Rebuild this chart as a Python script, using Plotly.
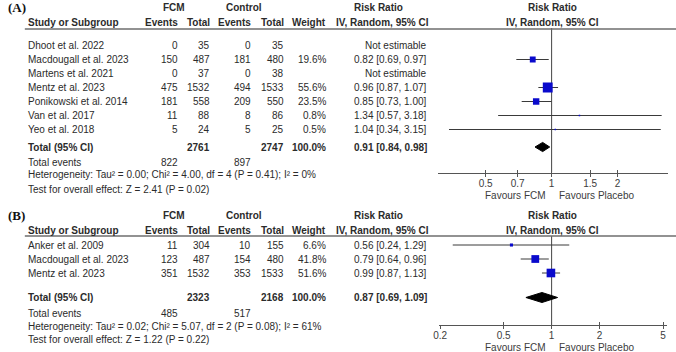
import math
import plotly.graph_objects as go

# ---------------- data: panel A ----------------
studies_a = ["Dhoot et al. 2022", "Macdougall et al. 2023", "Martens et al. 2021",
             "Mentz et al. 2023", "Ponikowski et al. 2014", "Van et al. 2017", "Yeo et al. 2018"]
fcm_events_a = [0, 150, 0, 475, 181, 11, 5]
fcm_total_a = [35, 487, 37, 1532, 558, 88, 24]
ctl_events_a = [0, 181, 0, 494, 209, 8, 5]
ctl_total_a = [35, 480, 38, 1533, 550, 86, 25]
weight_a = [None, 19.6, None, 55.6, 23.5, 0.8, 0.5]
rr_a = [None, 0.82, None, 0.96, 0.85, 1.34, 1.04]
lo_a = [None, 0.69, None, 0.87, 0.73, 0.57, 0.34]
hi_a = [None, 0.97, None, 1.07, 1.00, 3.18, 3.15]
pooled_a = [0.91, 0.84, 0.98]          # RR, lower, upper
totals_a = [2761, 2747]                 # FCM total, control total
total_events_a = [822, 897]
het_a = "Heterogeneity: Tau² = 0.00; Chi² = 4.00, df = 4 (P = 0.41); I² = 0%"
test_a = "Test for overall effect: Z = 2.41 (P = 0.02)"
ticks_a = [0.5, 0.7, 1, 1.5, 2]
ticklabels_a = ["0.5", "0.7", "1", "1.5", "2"]

# ---------------- data: panel B ----------------
studies_b = ["Anker et al. 2009", "Macdougall et al. 2023", "Mentz et al. 2023"]
fcm_events_b = [11, 123, 351]
fcm_total_b = [304, 487, 1532]
ctl_events_b = [10, 154, 353]
ctl_total_b = [155, 480, 1533]
weight_b = [6.6, 41.8, 51.6]
rr_b = [0.56, 0.79, 0.99]
lo_b = [0.24, 0.64, 0.87]
hi_b = [1.29, 0.96, 1.13]
pooled_b = [0.87, 0.69, 1.09]
totals_b = [2323, 2168]
total_events_b = [485, 517]
het_b = "Heterogeneity: Tau² = 0.02; Chi² = 5.07, df = 2 (P = 0.08); I² = 61%"
test_b = "Test for overall effect: Z = 1.22 (P = 0.22)"
ticks_b = [0.2, 0.5, 1, 2, 5]
ticklabels_b = ["0.2", "0.5", "1", "2", "5"]

# ---------------- layout geometry (pixels) ----------------
W, H = 676, 352
FONT = "Liberation Sans, Arial, sans-serif"
TXT = "#2b2b2b"
AXC = "#555555"
BLUE = "#0a0acc"
FS = 10

def px(x):
    return x / W

def py(y):
    return 1 - y / H

annotations = []

def text(x, y, s, anchor="left", bold=False, size=FS, color=TXT, family=FONT):
    if bold:
        s = "<b>" + s + "</b>"
    annotations.append(dict(x=px(x), y=py(y), xref="paper", yref="paper", text=s,
                            showarrow=False, xanchor=anchor, yanchor="middle",
                            font=dict(family=family, size=size, color=color)))

# column positions (right edges for numbers)
C_STUDY = 20
C_FE, C_FT, C_CE, C_CT, C_W, C_CI = 176, 208, 249, 283, 325, 427

shapes = []

def hline(y, x0=19, x1=676):
    shapes.append(dict(type="line", xref="paper", yref="paper", x0=px(x0), x1=px(x1),
                       y0=py(y), y1=py(y), line=dict(color="#6e6e6e", width=1.5)))

def panel(label, y0, rows_y, total_y, tev_y, het_y, test_y, studies, fe, ft, ce, ct, wt,
          rr, lo, hi, pooled, totals, tevents, het, test):
    text(0, y0, label, bold=True, size=13, family="Liberation Serif, Times New Roman, serif", color="#111")
    text(170, y0, "FCM", anchor="center", bold=True)
    text(240, y0, "Control", anchor="center", bold=True)
    text(376, y0, "Risk Ratio", anchor="center", bold=True)
    text(551, y0, "Risk Ratio", anchor="center", bold=True)
    y1 = y0 + 15
    text(C_STUDY, y1, "Study or Subgroup", bold=True)
    text(C_FE, y1, "Events", anchor="right", bold=True)
    text(C_FT, y1, "Total", anchor="right", bold=True)
    text(C_CE, y1, "Events", anchor="right", bold=True)
    text(C_CT, y1, "Total", anchor="right", bold=True)
    text(C_W, y1, "Weight", anchor="right", bold=True)
    text(380, y1, "IV, Random, 95% CI", anchor="center", bold=True)
    text(551, y1, "IV, Random, 95% CI", anchor="center", bold=True)
    hline(y1 + 6)
    for i, s in enumerate(studies):
        y = rows_y[i]
        text(C_STUDY, y, s)
        text(C_FE, y, str(fe[i]), anchor="right")
        text(C_FT, y, str(ft[i]), anchor="right")
        text(C_CE, y, str(ce[i]), anchor="right")
        text(C_CT, y, str(ct[i]), anchor="right")
        if wt[i] is not None:
            text(C_W, y, f"{wt[i]:.1f}%", anchor="right")
            text(C_CI, y, f"{rr[i]:.2f} [{lo[i]:.2f}, {hi[i]:.2f}]", anchor="right")
        else:
            text(C_CI, y, "Not estimable", anchor="right")
    text(C_STUDY, total_y, "Total (95% CI)", bold=True)
    text(C_FT, total_y, str(totals[0]), anchor="right", bold=True)
    text(C_CT, total_y, str(totals[1]), anchor="right", bold=True)
    text(C_W, total_y, "100.0%", anchor="right", bold=True)
    text(C_CI, total_y, f"{pooled[0]:.2f} [{pooled[1]:.2f}, {pooled[2]:.2f}]", anchor="right", bold=True)
    text(C_STUDY, tev_y, "Total events")
    text(C_FE, tev_y, str(tevents[0]), anchor="right")
    text(C_CE, tev_y, str(tevents[1]), anchor="right")
    text(C_STUDY, het_y, het)
    text(C_STUDY, test_y, test)

# panel A rows
rows_a = [45.5 + 14 * i for i in range(len(studies_a))]
total_a_y = 147
panel("(A)", 8, rows_a, total_a_y, 162, 175, 189, studies_a, fcm_events_a, fcm_total_a,
      ctl_events_a, ctl_total_a, weight_a, rr_a, lo_a, hi_a, pooled_a, totals_a,
      total_events_a, het_a, test_a)
# panel B rows
rows_b = [245 + 14 * i for i in range(len(studies_b))]
total_b_y = 297.5
panel("(B)", 215, rows_b, total_b_y, 313, 326, 339, studies_b, fcm_events_b, fcm_total_b,
      ctl_events_b, ctl_total_b, weight_b, rr_b, lo_b, hi_b, pooled_b, totals_b,
      total_events_b, het_b, test_b)

fig = go.Figure()

def forest(xa, ya, rows_y, rr, lo, hi, wt, pooled, total_y, top_y, axis_y, k, hh):
    # reference line at RR = 1
    fig.add_trace(go.Scatter(x=[1, 1], y=[top_y, axis_y], mode="lines",
                             line=dict(color="#444", width=1), xaxis=xa, yaxis=ya,
                             hoverinfo="skip", showlegend=False))
    for i in range(len(rr)):
        if rr[i] is None:
            continue
        y = rows_y[i]
        fig.add_trace(go.Scatter(x=[lo[i], hi[i]], y=[y, y], mode="lines",
                                 line=dict(color="#3a3a3a", width=1), xaxis=xa, yaxis=ya,
                                 hoverinfo="skip", showlegend=False))
        fig.add_trace(go.Scatter(x=[rr[i]], y=[y], mode="markers",
                                 marker=dict(symbol="square", color=BLUE,
                                             size=max(1.5, k * math.sqrt(wt[i])),
                                             line=dict(width=0)),
                                 xaxis=xa, yaxis=ya, hoverinfo="skip", showlegend=False))
    e, l, u = pooled
    fig.add_trace(go.Scatter(x=[l, e, u, e, l], y=[total_y, total_y - hh, total_y, total_y + hh, total_y],
                             mode="lines", fill="toself", fillcolor="#000", line=dict(color="#000", width=1),
                             xaxis=xa, yaxis=ya, hoverinfo="skip", showlegend=False))

# panel A axes
A_TOP, A_AX = 28, 172.5
forest("x", "y", rows_a, rr_a, lo_a, hi_a, weight_a, pooled_a, total_a_y, A_TOP, A_AX, 1.32, 4.6)
B_TOP, B_AX = 236, 325
forest("x2", "y2", rows_b, rr_b, lo_b, hi_b, weight_b, pooled_b, total_b_y, B_TOP, B_AX, 1.2, 5.0)

# invisible traces for the overlay tick axes
fig.add_trace(go.Scatter(x=[1], y=[A_AX], mode="markers", marker=dict(opacity=0),
                         xaxis="x3", yaxis="y", hoverinfo="skip", showlegend=False))
fig.add_trace(go.Scatter(x=[1], y=[B_AX], mode="markers", marker=dict(opacity=0),
                         xaxis="x4", yaxis="y2", hoverinfo="skip", showlegend=False))

ppd_a = 221.0
one_a = 550.5
range_a = [-(one_a - 436) / ppd_a, (668 - one_a) / ppd_a]
ppd_b = 161.0
range_b = [math.log10(0.2) - 1 / ppd_b, math.log10(5) + 4 / ppd_b]

def xaxis_cfg(dom, rng, tv, tt, anchor, labels=True, ticks="outside", overlay=None):
    d = dict(domain=dom, type="log", range=rng, anchor=anchor, showgrid=False, zeroline=False,
             showline=True, linecolor=AXC, linewidth=1, ticks=ticks, ticklen=3, tickwidth=1,
             tickcolor=AXC, tickvals=tv, ticktext=tt, showticklabels=labels,
             tickfont=dict(family=FONT, size=FS, color="#3c3c3c"), fixedrange=True)
    if labels:
        d["ticklabelstandoff"] = 1
    if overlay:
        d["overlaying"] = overlay
    return d

fig.update_layout(
    width=W, height=H, margin=dict(l=0, r=0, t=0, b=0),
    paper_bgcolor="white", plot_bgcolor="rgba(0,0,0,0)",
    xaxis=xaxis_cfg([436 / W, 668 / W], range_a, ticks_a, ticklabels_a, "y", ticks="inside"),
    xaxis3=xaxis_cfg([436 / W, 668 / W], range_a, ticks_a, ticklabels_a, "y", labels=False,
                     ticks="outside", overlay="x"),
    yaxis=dict(domain=[py(A_AX), py(A_TOP)], range=[A_AX, A_TOP], visible=False, fixedrange=True),
    xaxis2=xaxis_cfg([437 / W, 667 / W], range_b, ticks_b, ticklabels_b, "y2", ticks="inside"),
    xaxis4=xaxis_cfg([437 / W, 667 / W], range_b, ticks_b, ticklabels_b, "y2", labels=False,
                     ticks="outside", overlay="x2"),
    yaxis2=dict(domain=[py(B_AX), py(B_TOP)], range=[B_AX, B_TOP], visible=False, fixedrange=True),
    annotations=annotations, shapes=shapes, showlegend=False,
)

# favours labels
for yy in (195.5, 347):
    text(547, yy, "Favours FCM", anchor="right", color="#3c3c3c")
    text(556, yy, "Favours Placebo", anchor="left", color="#3c3c3c")
fig.update_layout(annotations=annotations)

fig.write_html("out.html", config={"displayModeBar": False},
               post_script="document.body.style.margin='0';document.body.style.overflow='hidden';")
